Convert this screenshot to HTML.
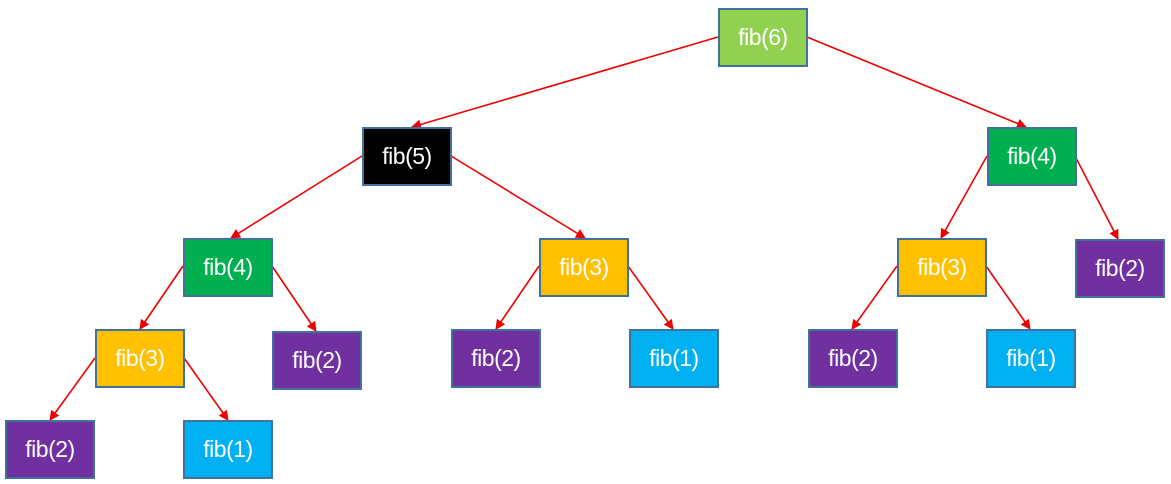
<!DOCTYPE html>
<html><head><style>
body{margin:0;width:1171px;height:484px;background:#fff;position:relative;overflow:hidden;font-family:"Liberation Sans",sans-serif}
.b{position:absolute;width:86px;height:55px;border:2px solid #41719c;color:#fff;font-size:23px;display:flex;align-items:center;justify-content:center;letter-spacing:-0.5px}
.g1{background:#92d050}.k{background:#000}.g{background:#00b050}.y{background:#ffc000}.p{background:#7030a0}.c{background:#00b0f0}
svg{position:absolute;left:0;top:0}
</style></head><body>
<svg width="1171" height="484">
<defs><marker id="a" markerWidth="10" markerHeight="10" refX="9" refY="5" orient="auto" markerUnits="userSpaceOnUse"><path d="M0,0 L10,5 L0,10 z" fill="#e00"/></marker></defs>
<g stroke="#e00" stroke-width="1.6" marker-end="url(#a)">
<line x1="718" y1="37" x2="412" y2="127"/>
<line x1="807" y1="37" x2="1026" y2="127"/>
<line x1="362" y1="156" x2="231" y2="238"/>
<line x1="451" y1="156" x2="585" y2="238"/>
<line x1="183" y1="266" x2="140" y2="329"/>
<line x1="272" y1="266" x2="316" y2="331"/>
<line x1="95" y1="358" x2="50" y2="420"/>
<line x1="184" y1="358" x2="228" y2="420"/>
<line x1="539" y1="266" x2="496" y2="329"/>
<line x1="628" y1="266" x2="673" y2="329"/>
<line x1="987" y1="156" x2="941" y2="238"/>
<line x1="1075" y1="156" x2="1118" y2="239"/>
<line x1="897" y1="266" x2="852" y2="329"/>
<line x1="986" y1="266" x2="1030" y2="329"/>
</g></svg>
<div class="b g1" style="left:718px;top:8px">fib(6)</div>
<div class="b k" style="left:362px;top:127px">fib(5)</div>
<div class="b g" style="left:987px;top:127px">fib(4)</div>
<div class="b g" style="left:183px;top:238px">fib(4)</div>
<div class="b y" style="left:539px;top:238px">fib(3)</div>
<div class="b y" style="left:897px;top:238px">fib(3)</div>
<div class="b p" style="left:1075px;top:239px">fib(2)</div>
<div class="b y" style="left:95px;top:329px">fib(3)</div>
<div class="b p" style="left:272px;top:331px">fib(2)</div>
<div class="b p" style="left:451px;top:329px">fib(2)</div>
<div class="b c" style="left:629px;top:329px">fib(1)</div>
<div class="b p" style="left:808px;top:329px">fib(2)</div>
<div class="b c" style="left:986px;top:329px">fib(1)</div>
<div class="b p" style="left:5px;top:420px">fib(2)</div>
<div class="b c" style="left:183px;top:420px">fib(1)</div>
</body></html>
